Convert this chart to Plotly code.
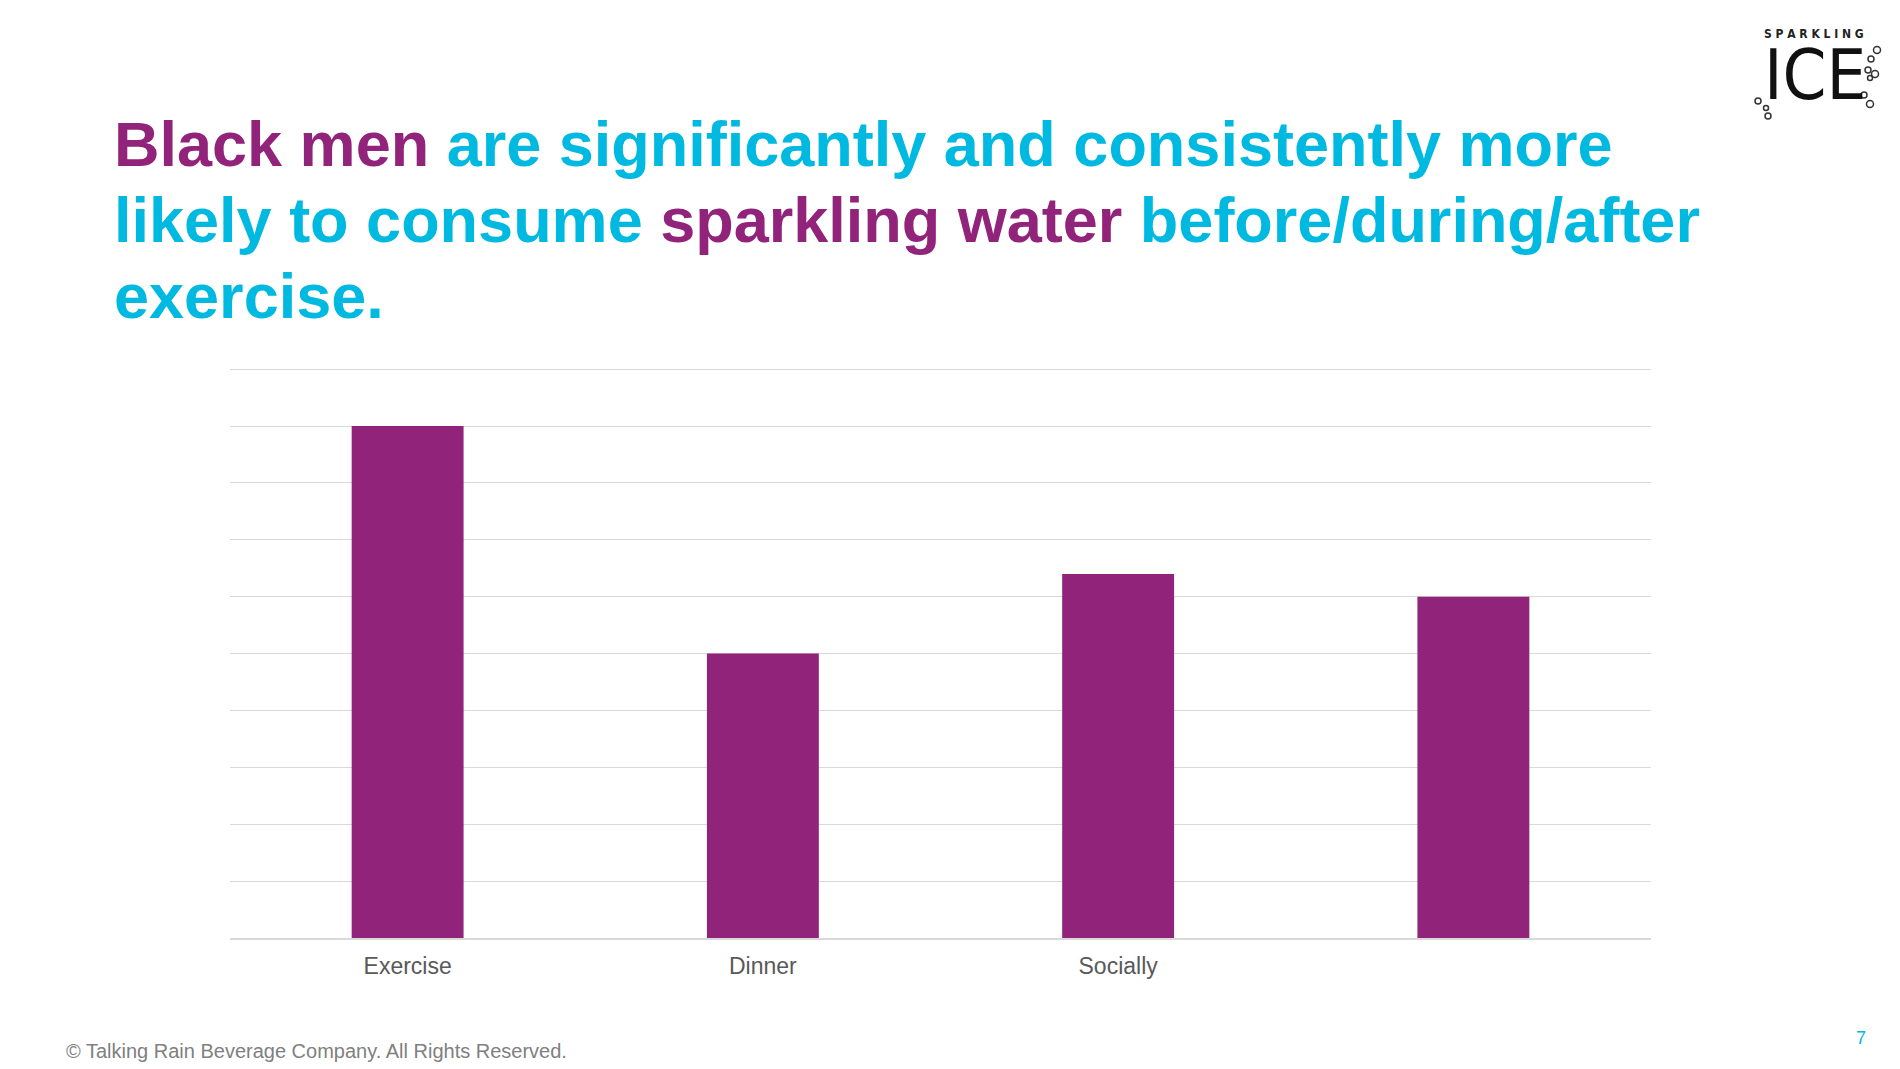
import plotly.graph_objects as go

# Chart data (no value axis labels in the source; units are gridline steps)
occasions = ["Exercise", "Dinner", "Socially", " "]
share = [9.0, 5.0, 6.4, 6.0]

PURPLE = "#92237A"
CYAN = "#00B9E0"
W, H = 1900, 1069
L, R, T, B = 222, 257, 360, 139
plot_h = H - T - B


def py(pixel_y):
    # pixel row -> paper y
    return (H - B - pixel_y) / plot_h


def px(pixel_x):
    return (pixel_x - L) / (W - L - R)


fig = go.Figure()
fig.add_trace(go.Bar(
    x=occasions, y=share,
    marker=dict(color=PURPLE, line=dict(width=0)),
    hoverinfo="x+y",
))

fig.update_xaxes(
    showgrid=False, showline=True, linecolor="#D9D9D9", linewidth=1.5,
    ticks="", tickfont=dict(family="Liberation Sans, Arial", size=23, color="#595959"),
    ticklabelstandoff=7,
)
fig.update_yaxes(
    range=[0, 10.02], tickvals=list(range(0, 11)), showgrid=True, gridcolor="#D9D9D9",
    gridwidth=1, showticklabels=False, zeroline=False, ticks="",
)

title_font = dict(family="Liberation Sans, Arial", size=63)
title_lines = [
    f"<b><span style='color:{PURPLE}'>Black men</span> are significantly and consistently more</b>",
    f"<b>likely to consume <span style='color:{PURPLE}'>sparkling water</span> before/during/after</b>",
    "<b>exercise.</b>",
]
annotations = []
for i, line in enumerate(title_lines):
    annotations.append(dict(
        text=line, x=px(104), y=py(136 + 76 * i), xref="paper", yref="paper",
        xanchor="left", yanchor="middle", showarrow=False,
        font=dict(color=CYAN, **title_font),
    ))

annotations += [
    dict(text="© Talking Rain Beverage Company. All Rights Reserved.",
         x=px(56), y=py(1043), xref="paper", yref="paper", xanchor="left", yanchor="middle",
         showarrow=False, font=dict(family="Liberation Sans, Arial", size=20, color="#808080")),
    dict(text="7", x=px(1853), y=py(1030), xref="paper", yref="paper", xanchor="center",
         yanchor="middle", showarrow=False,
         font=dict(family="Liberation Sans, Arial", size=18, color=CYAN)),
    dict(text="<b>S P A R K L I N G</b>", x=px(1806), y=py(26), xref="paper", yref="paper",
         xanchor="center", yanchor="middle", showarrow=False,
         font=dict(family="Liberation Sans Narrow, DejaVu Sans Condensed", size=12, color="#222222")),
    dict(text="ICE", x=px(1807), y=py(67), xref="paper", yref="paper",
         xanchor="center", yanchor="middle", showarrow=False,
         font=dict(family="Liberation Sans Narrow, DejaVu Sans Condensed", size=70, color="#111111")),
]

# bubbles in the logo
shapes = []
for cx, cy, r in [(1869, 42, 3.5), (1863, 51, 3), (1860, 62, 3), (1867, 66, 3.5),
                  (1862, 70, 2.5), (1856, 87, 3), (1862, 96, 3.5),
                  (1750, 93, 3), (1758, 100, 2.5), (1760, 108, 3)]:
    shapes.append(dict(type="circle", xref="paper", yref="paper",
                       x0=px(cx - r), x1=px(cx + r), y0=py(cy + r), y1=py(cy - r),
                       line=dict(color="#333333", width=1.5)))

fig.update_layout(
    width=W, height=H,
    margin=dict(l=L, r=R, t=T, b=B),
    paper_bgcolor="white", plot_bgcolor="white",
    bargap=0.685, showlegend=False,
    annotations=annotations, shapes=shapes,
)

fig.write_html("out.html")
